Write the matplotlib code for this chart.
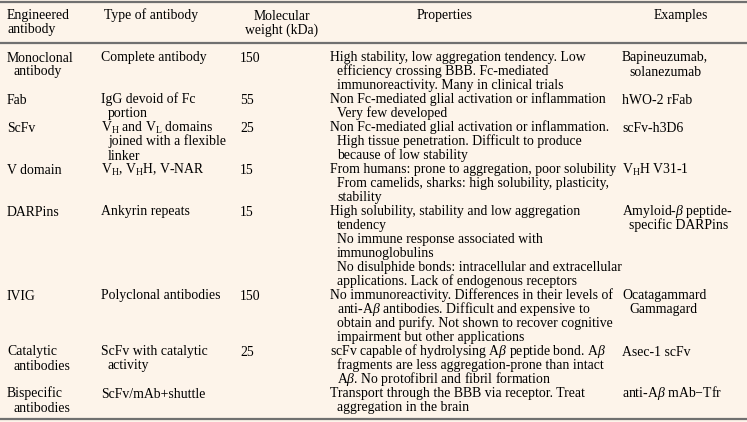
import matplotlib
matplotlib.use("Agg")
import matplotlib.pyplot as plt

plt.rcParams['font.family'] = ['Liberation Serif', 'DejaVu Serif']
plt.rcParams['mathtext.fontset'] = 'custom'
plt.rcParams['mathtext.rm'] = 'Liberation Serif'
plt.rcParams['mathtext.it'] = 'Liberation Serif:italic'

# table content, one list per column; each cell is a list of printed lines
headers = [["Engineered", "antibody"], ["Type of antibody"], ["Molecular", "weight (kDa)"],
           ["Properties"], ["Examples"]]

antibody = [["Monoclonal", "antibody"], ["Fab"], ["ScFv"], ["V domain"], ["DARPins"],
            ["IVIG"], ["Catalytic", "antibodies"], ["Bispecific", "antibodies"]]

ab_type = [["Complete antibody"],
           ["IgG devoid of Fc", "portion"],
           [r"V$_\mathrm{H}$ and V$_\mathrm{L}$ domains", "joined with a flexible", "linker"],
           [r"V$_\mathrm{H}$, V$_\mathrm{H}$H, V-NAR"],
           ["Ankyrin repeats"],
           ["Polyclonal antibodies"],
           ["ScFv with catalytic", "activity"],
           ["ScFv/mAb+shuttle"]]

weight = ["150", "55", "25", "15", "15", "150", "25", ""]

properties = [
    ["High stability, low aggregation tendency. Low", "efficiency crossing BBB. Fc-mediated",
     "immunoreactivity. Many in clinical trials"],
    ["Non Fc-mediated glial activation or inflammation", "Very few developed"],
    ["Non Fc-mediated glial activation or inflammation.", "High tissue penetration. Difficult to produce",
     "because of low stability"],
    ["From humans: prone to aggregation, poor solubility",
     "From camelids, sharks: high solubility, plasticity,", "stability"],
    ["High solubility, stability and low aggregation", "tendency", "No immune response associated with",
     "immunoglobulins", "No disulphide bonds: intracellular and extracellular",
     "applications. Lack of endogenous receptors"],
    ["No immunoreactivity. Differences in their levels of",
     r"anti-A$\it{\beta}$ antibodies. Difficult and expensive to",
     "obtain and purify. Not shown to recover cognitive", "impairment but other applications"],
    [r"scFv capable of hydrolysing A$\it{\beta}$ peptide bond. A$\it{\beta}$",
     "fragments are less aggregation-prone than intact",
     r"A$\it{\beta}$. No protofibril and fibril formation"],
    ["Transport through the BBB via receptor. Treat", "aggregation in the brain"]]

examples = [["Bapineuzumab,", "solanezumab"], ["hWO-2 rFab"], ["scFv-h3D6"],
            [r"V$_\mathrm{H}$H V31-1"],
            [r"Amyloid-$\it{\beta}$ peptide-", "specific DARPins"],
            ["Ocatagammard", "Gammagard"], ["Asec-1 scFv"],
            [r"anti-A$\it{\beta}$ mAb$-$Tfr"]]

W, H = 747, 422
fig = plt.figure(figsize=(W / 100, H / 100), dpi=100)
fig.patch.set_facecolor('#fdf4ea')
ax = fig.add_axes([0, 0, 1, 1])
ax.set_xlim(0, W)
ax.set_ylim(H, 0)
ax.axis('off')

fs = 9.95
lh = 14.0
col_x = [7, 101, 240, 330, 622]
head_cx = [7, 151, 282, 445, 681]
indent = 7

# rules
for y, lw in [(2, 1.6), (43, 1.6), (419, 1.6)]:
    ax.plot([0, W], [y, y], color='#707070', lw=lw, solid_capstyle='butt')

# header
for j, cell in enumerate(headers):
    for k, line in enumerate(cell):
        ax.text(head_cx[j], 19.5 + k * lh, line, fontsize=fs, va='baseline',
                ha='left' if j == 0 else 'center')

# body
y0 = 61.5
columns = [antibody, ab_type, [[w] for w in weight], properties, examples]
for i in range(len(antibody)):
    nlines = max(len(c[i]) for c in columns)
    for j, col in enumerate(columns):
        for k, line in enumerate(col[i]):
            x = col_x[j] + (indent if k > 0 else 0)
            ax.text(x, y0 + k * lh, line, fontsize=fs, va='baseline', ha='left')
    y0 += nlines * lh

fig.savefig('out.png', dpi=100, facecolor=fig.get_facecolor())
